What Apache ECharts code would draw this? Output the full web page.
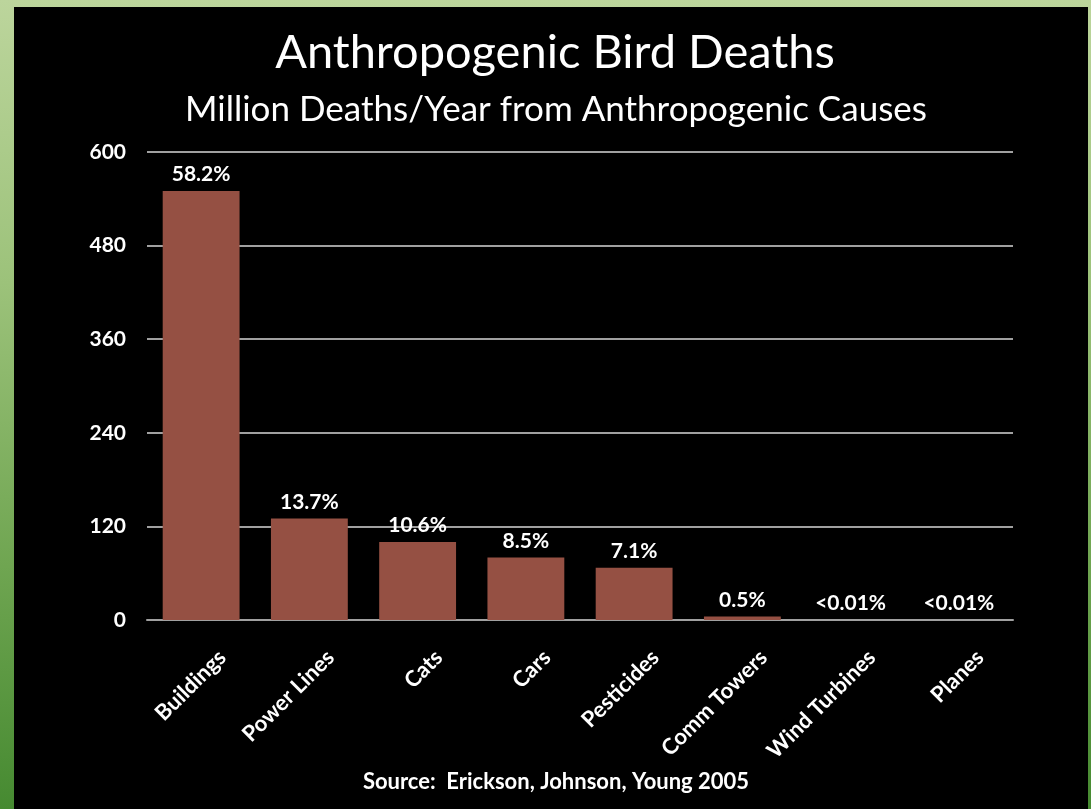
<!DOCTYPE html>
<html>
<head>
<meta charset="utf-8">
<script src="https://cdn.jsdelivr.net/npm/echarts@6/dist/echarts.min.js"></script>
<style>
  html, body { margin: 0; padding: 0; }
  body {
    width: 1091px; height: 809px; overflow: hidden; position: relative;
    background: linear-gradient(to bottom, #bcd59c 0%, #9cc27a 35%, #6fa551 70%, #468a31 100%);
  }
  #chart {
    position: absolute; left: 14px; top: 7px; width: 1074px; height: 802px;
    background: #000;
  }
</style>
</head>
<body>
<div id="chart"></div>
<script>
// Annual bird deaths from human causes, in millions
const causes = ['Buildings', 'Power Lines', 'Cats', 'Cars', 'Pesticides', 'Comm Towers', 'Wind Turbines', 'Planes'];
const deaths = [550, 130, 100, 80, 67, 4.5, 0.0286, 0.025];
const shareLabels = ['58.2%', '13.7%', '10.6%', '8.5%', '7.1%', '0.5%', '<0.01%', '<0.01%'];
const yTicks = [0, 120, 240, 360, 480, 600];

const font = 'Lato, "Open Sans", "DejaVu Sans", sans-serif';
const chart = echarts.init(document.getElementById('chart'), null, { renderer: 'canvas' });

chart.setOption({
  backgroundColor: '#000',
  animation: false,
  title: [
    {
      text: 'Anthropogenic Bird Deaths',
      left: 536, top: 17, textAlign: 'center',
      textStyle: { color: '#fff', fontFamily: font, fontSize: 47, fontWeight: 'normal' }
    },
    {
      text: 'Million Deaths/Year from Anthropogenic Causes',
      left: 537, top: 80, textAlign: 'center',
      textStyle: { color: '#fff', fontFamily: font, fontSize: 35, fontWeight: 'normal' }
    },
    {
      text: 'Source:  Erickson, Johnson, Young 2005',
      left: 537, top: 759, textAlign: 'center',
      textStyle: { color: '#fff', fontFamily: font, fontSize: 22, fontWeight: 'bold' }
    }
  ],
  grid: { left: 133, right: 75, top: 145, bottom: 189 },
  xAxis: {
    type: 'category',
    data: causes,
    axisLine: { show: true, lineStyle: { color: '#a0a0a0', width: 2 } },
    axisTick: { show: false },
    axisLabel: {
      rotate: 45, margin: 55, interval: 0,
      // pull each rotated label up and to the right of its bar centre
      padding: [0, -30, 0, 0],
      color: '#fff', fontFamily: font, fontSize: 22, fontWeight: 'bold'
    }
  },
  yAxis: {
    type: 'value',
    min: yTicks[0], max: yTicks[yTicks.length - 1], interval: 120,
    axisLine: { show: false },
    axisTick: { show: false },
    splitLine: { lineStyle: { color: '#a0a0a0', width: 2 } },
    axisLabel: {
      margin: 21, color: '#fff', fontFamily: font, fontSize: 21, fontWeight: 'bold',
      customValues: yTicks
    }
  },
  series: [{
    type: 'bar',
    data: deaths,
    barWidth: '71%',
    itemStyle: { color: '#955043' },
    label: {
      show: true, position: 'top', distance: 6,
      color: '#fff', fontFamily: font, fontSize: 21, fontWeight: 'bold',
      formatter: p => shareLabels[p.dataIndex]
    }
  }]
});
</script>
</body>
</html>
